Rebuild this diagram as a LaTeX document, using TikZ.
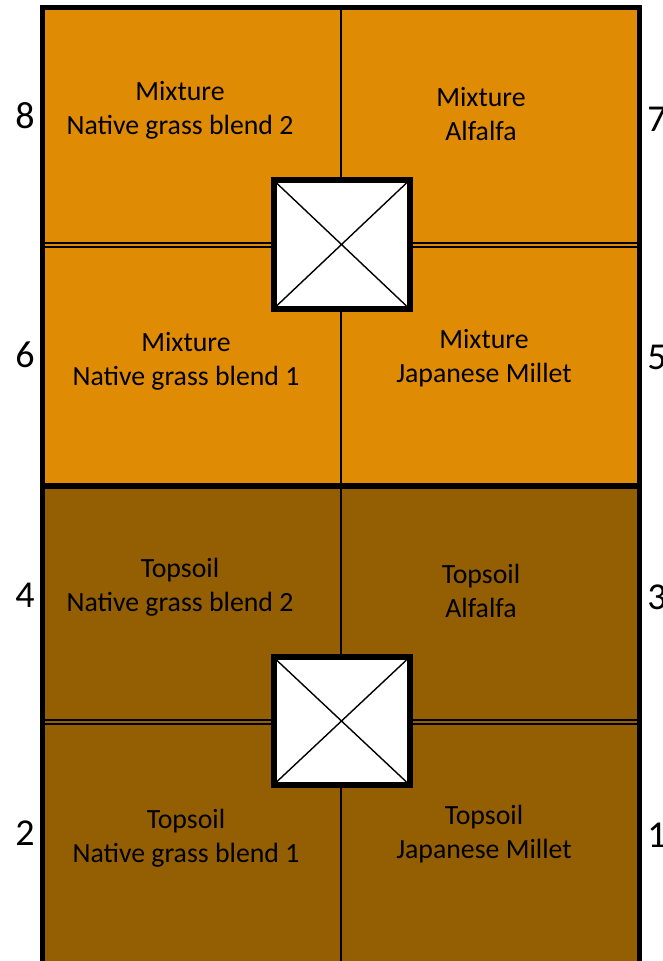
\documentclass[tikz,border=0pt]{standalone}
\usepackage{fontspec}
\setmainfont{Carlito}
\definecolor{mixorange}{RGB}{223,139,4}
\definecolor{soilbrown}{RGB}{148,94,2}
\begin{document}
\begin{tikzpicture}[x=1pt,y=-1pt,
  lbl/.style={align=center,inner sep=0pt,font=\fontsize{27.8}{33.8}\selectfont},
  num/.style={inner sep=0pt,font=\fontsize{38}{44}\selectfont},
  thinline/.style={line width=1.5pt,black},
  boxline/.style={line width=6pt,black,fill=white},
  diag/.style={line width=1.4pt,black}]
\useasboundingbox (0,0) rectangle (662,961);
% fills
\fill[mixorange] (42.5,7.5) rectangle (639.5,486);
\fill[soilbrown] (42.5,486) rectangle (639.5,963);
% vertical centre line
\draw[thinline] (341,7.5) -- (341,963);
% double horizontal lines
\foreach \yy in {245,722}{
  \draw[line width=1.1pt] (42.5,\yy-2) -- (639.5,\yy-2);
  \draw[line width=1.1pt] (42.5,\yy+2) -- (639.5,\yy+2);
}
% middle thick divider
\draw[line width=6pt] (42.5,486) -- (639.5,486);
% outer frame
\draw[line width=5pt] (42.5,7.5) rectangle (639.5,963);
% centre boxes
\draw[boxline] (273.5,180) rectangle (409.5,309);
\draw[diag] (276.5,183) -- (406.5,306) (406.5,183) -- (276.5,306);
\draw[boxline] (273.5,657) rectangle (409.5,785);
\draw[diag] (276.5,660) -- (406.5,782) (406.5,660) -- (276.5,782);
% labels
\node[lbl] (c8) at (180,110) {Mixture\\Native grass blend 2};
\node[lbl] (c7) at (481,114) {Mixture\\Alfalfa};
\node[lbl] (c6) at (186,361) {Mixture\\Native grass blend 1};
\node[lbl] (c5) at (484,358) {Mixture\\Japanese Millet};
\node[lbl] (c4) at (180,587) {Topsoil\\Native grass blend 2};
\node[lbl] (c3) at (481,591) {Topsoil\\Alfalfa};
\node[lbl] (c2) at (186,838) {Topsoil\\Native grass blend 1};
\node[lbl] (c1) at (484,834) {Topsoil\\Japanese Millet};
% plot numbers
\node[num] (n8) at (25,116) {8};
\node[num] (n6) at (25,355) {6};
\node[num] (n4) at (25,595) {4};
\node[num] (n2) at (25,833) {2};
\node[num] (n7) at (657,119) {7};
\node[num] (n5) at (657,357) {5};
\node[num] (n3) at (657,597) {3};
\node[num] (n1) at (657,835) {1};
\end{tikzpicture}
\end{document}
